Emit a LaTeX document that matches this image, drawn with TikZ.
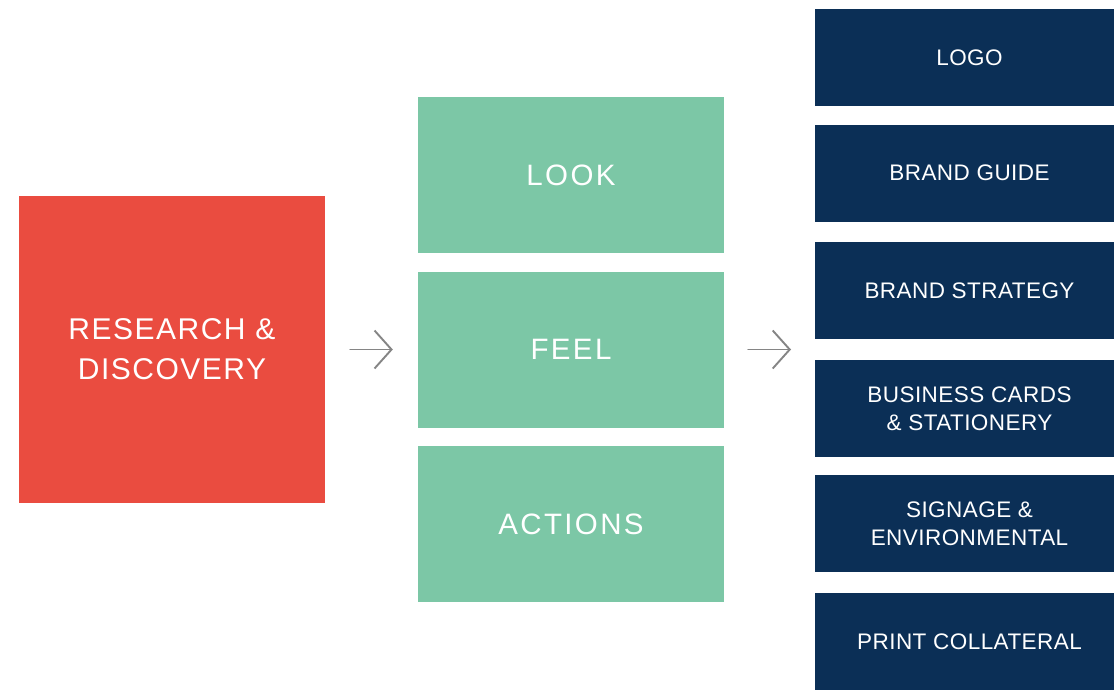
\documentclass[tikz,border=0pt]{standalone}
\usepackage{fontspec}
\setmainfont{Liberation Sans}
\newfontfamily\redfont[LetterSpace=5]{Liberation Sans}
\newfontfamily\greenfont[LetterSpace=8]{Liberation Sans}
\newfontfamily\navyfont[LetterSpace=2]{Liberation Sans}
\usetikzlibrary{arrows.meta}
\definecolor{rbox}{HTML}{EA4C40}
\definecolor{gbox}{HTML}{7CC7A6}
\definecolor{nbox}{HTML}{0B2F56}
\definecolor{arrgray}{HTML}{858585}
\begin{document}
\begin{tikzpicture}[x=1pt,y=-1pt,
  redbox/.style={fill=rbox, draw=none, minimum width=306pt, minimum height=307pt, inner sep=0pt,
    text=white, align=center, font=\redfont\fontsize{30}{40}\selectfont},
  greenbox/.style={fill=gbox, draw=none, minimum width=306pt, minimum height=156pt, inner sep=0pt,
    text=white, align=center, font=\greenfont\fontsize{29.5}{34}\selectfont},
  navybox/.style={fill=nbox, draw=none, minimum width=309pt, minimum height=97pt, inner sep=0pt,
    text=white, align=center, font=\navyfont\fontsize{22.5}{28}\selectfont},
  flowarrow/.style={draw=arrgray, line width=1.9pt, line cap=round,
    -{Straight Barb[length=17pt, width=38pt, line width=1.9pt]}}
]
\fill[white] (0,0) rectangle (1114,689);
\useasboundingbox (0,0) rectangle (1114,689);

\node[redbox] (research) at (172,349.5) {RESEARCH \&\\DISCOVERY};

\node[greenbox] (look) at (571,175) {LOOK};
\node[greenbox] (feel) at (571,349.5) {FEEL};
\node[greenbox] (actions) at (571,524) {ACTIONS};

\node[navybox] (logo) at (969.5,57.5) {LOGO};
\node[navybox] (guide) at (969.5,173) {BRAND GUIDE};
\node[navybox] (strategy) at (969.5,290.5) {BRAND STRATEGY};
\node[navybox] (cards) at (969.5,408.5) {BUSINESS CARDS\\\& STATIONERY};
\node[navybox] (signage) at (969.5,523.5) {SIGNAGE \&\\ENVIRONMENTAL};
\node[navybox] (print) at (969.5,641.5) {PRINT COLLATERAL};

\coordinate (outputs) at (815,349.5);

\draw[flowarrow, shorten <=25pt, shorten >=25pt] (research.east) -- (feel.west);
\draw[flowarrow, shorten <=24pt, shorten >=24pt] (feel.east) -- (outputs);
\end{tikzpicture}
\end{document}
